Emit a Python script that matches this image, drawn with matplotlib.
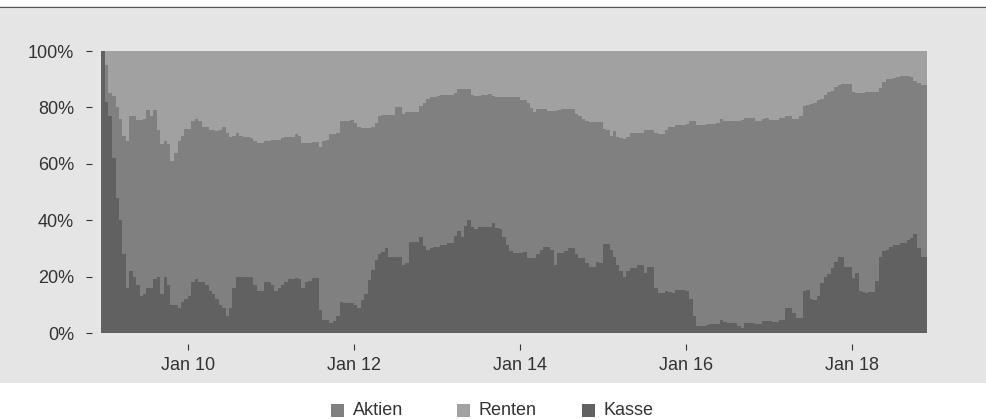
import numpy as np
import pandas as pd
import matplotlib
matplotlib.use("Agg")
import matplotlib.pyplot as plt
import matplotlib.dates as mdates
from matplotlib.patches import Rectangle
from matplotlib.lines import Line2D
from matplotlib.ticker import FuncFormatter

# ---------------- data (semi-monthly, percent) ----------------
dates = pd.date_range("2008-12-01", periods=240, freq="SMS")

kasse = [
    100, 100, 82, 77, 62, 48, 40, 28, 16, 22, 20, 17,
    13, 14, 16, 16, 19, 20, 14, 20, 17, 10, 10, 9,
    11, 12, 13, 18, 19, 18, 18, 17, 15, 14, 12, 10,
    9, 6, 9, 16, 20, 20, 20, 20, 20, 17, 15, 15,
    18, 18, 17, 15, 16, 17, 18, 19, 19, 19.5, 19, 15.8,
    18, 18.5, 19.5, 19.5, 8, 4.6, 4.5, 3.5, 4.3, 6, 11, 10.5,
    10.5, 10.5, 10, 9, 11.7, 14, 18.8, 22.3, 25.8, 28, 28.8, 30,
    27, 27, 26.8, 26.8, 24, 25, 32.4, 32.4, 32.4, 34, 31, 29.4,
    30, 30.5, 30.5, 31.2, 31.2, 31.8, 32, 34.5, 36, 34, 38, 40,
    37.5, 37, 37.5, 37.7, 37.7, 37.7, 38.9, 37.1, 37, 34.2, 31.2, 29,
    28.5, 28.3, 28.3, 28.8, 26.5, 26.5, 26.5, 28, 29.4, 30.6, 30.6, 29.4,
    24.1, 28.3, 28.3, 29, 30, 30, 28, 26.5, 26.5, 24.7, 23.5, 23.5,
    25.3, 24.7, 31.6, 31.6, 29.4, 27, 24.1, 22, 20, 22, 23.2, 23.2,
    24.1, 24.1, 21.2, 23.5, 23.5, 16, 14.1, 14.1, 15, 14.5, 14.1, 15.2,
    15.2, 15.2, 14.9, 12, 6, 2.5, 2.5, 2.5, 2.8, 3.1, 3.1, 3.3,
    4.6, 4, 3.4, 3.4, 3.4, 2.5, 1.9, 3.5, 3.7, 3.7, 3.1, 3.1,
    4.3, 4.3, 4.3, 3.8, 3.8, 4.6, 4.6, 9, 9, 7, 5.2, 5.2,
    15, 15.2, 12, 11.7, 13, 17.6, 19.7, 21, 22.9, 25.3, 27, 27,
    23.5, 23.5, 19.4, 21.2, 15, 14.7, 14.1, 14.7, 14.7, 18.4, 27, 29,
    29.4, 30.6, 31.2, 31.2, 31.8, 31.8, 33, 33.6, 35, 30, 27, 27,
]

aktien = [
    0, 0, 13, 8, 22, 32, 36, 42, 52, 55, 57, 58.5,
    62.5, 62, 63, 61, 60, 52, 53, 48, 50, 51, 54, 59,
    59, 60.5, 59.5, 57, 57, 57, 55, 56, 57, 58, 59.5, 62,
    64, 65, 60.5, 54, 51, 50, 49.5, 49.5, 49, 51, 52.5, 52.5,
    50, 50, 51.5, 53.5, 52.5, 52, 51.5, 50.5, 50.5, 50.9, 51, 51.5,
    49.3, 48.8, 48.1, 48.1, 58, 63.4, 64, 66.9, 66.1, 65, 64, 64.5,
    64.5, 65, 64.5, 64, 60.9, 58.6, 53.8, 50.7, 48.5, 49, 48.5, 47.3,
    50.3, 50.3, 53.2, 53.5, 53.5, 53.5, 46.1, 46.1, 46.1, 46.5, 50.4, 53.6,
    53.8, 53.3, 53.5, 53.2, 53.2, 52.6, 52.4, 50.5, 50.4, 52.4, 48.4, 46.5,
    47, 47, 46.7, 46.7, 46.7, 46.9, 45.1, 46.7, 46.8, 49.6, 52.4, 54.6,
    55.1, 55.3, 54.3, 53.8, 54.9, 53.2, 52, 51.3, 49.9, 48.7, 48.2, 49.4,
    54.7, 50.9, 51.1, 50.4, 49.4, 49.4, 49.5, 50.5, 49.5, 50.3, 51.4, 51.4,
    49.4, 50, 40.9, 40.4, 40.6, 44.6, 45.5, 47, 48.8, 47.5, 47.6, 47.6,
    46.7, 46.9, 50.8, 48.5, 48.5, 55, 56.3, 56.3, 57, 58.7, 59.1, 58.6,
    58.6, 58.6, 59.1, 63.2, 69.2, 71.3, 71.3, 71.3, 71.2, 71, 71, 71.2,
    71.3, 71.2, 71.8, 71.8, 71.8, 72.7, 73.6, 72.9, 72.7, 72.7, 72.1, 72.1,
    71.7, 71.8, 71.1, 71.6, 71.6, 71.5, 71.5, 68.1, 68.1, 68.9, 70.7, 71.8,
    65.5, 65.7, 69.2, 69.7, 69.5, 65.4, 64.7, 64.5, 62.9, 62.1, 61, 61.2,
    64.7, 64.7, 66.1, 63.8, 70, 70.3, 71.2, 70.6, 70.6, 66.9, 60, 60,
    60.6, 59.4, 59.3, 59.5, 59.2, 59.3, 58.1, 57.3, 54.5, 58.5, 60.9, 60.9,
]

renten = [
    0, 0, 5, 15, 16, 20, 24, 30, 32, 23, 23, 24.5,
    24.5, 24, 21, 23, 21, 28, 33, 32, 33, 39, 36, 32,
    30, 27.5, 27.5, 25, 24, 25, 27, 27, 28, 28, 28.5, 28,
    27, 29, 30.5, 30, 29, 30, 30.5, 30.5, 31, 32, 32.5, 32.5,
    32, 32, 31.5, 31.5, 31.5, 31, 30.5, 30.5, 30.5, 29.6, 30, 32.7,
    32.7, 32.7, 32.4, 32.4, 34, 32, 31.5, 29.6, 29.6, 29, 25, 25,
    25, 24.5, 25.5, 27, 27.4, 27.4, 27.4, 27, 25.7, 23, 22.7, 22.7,
    22.7, 22.7, 20, 19.7, 22.5, 21.5, 21.5, 21.5, 21.5, 19.5, 18.6, 17,
    16.2, 16.2, 16, 15.6, 15.6, 15.6, 15.6, 15, 13.6, 13.6, 13.6, 13.5,
    15.5, 16, 15.8, 15.6, 15.6, 15.4, 16, 16.2, 16.2, 16.2, 16.4, 16.4,
    16.4, 16.4, 17.4, 17.4, 18.6, 20.3, 21.5, 20.7, 20.7, 20.7, 21.2, 21.2,
    21.2, 20.8, 20.6, 20.6, 20.6, 20.6, 22.5, 23, 24, 25, 25.1, 25.1,
    25.3, 25.3, 27.5, 28, 30, 28.4, 30.4, 31, 31.2, 30.5, 29.2, 29.2,
    29.2, 29, 28, 28, 28, 29, 29.6, 29.6, 28, 26.8, 26.8, 26.2,
    26.2, 26.2, 26, 24.8, 24.8, 26.2, 26.2, 26.2, 26, 25.9, 25.9, 25.5,
    24.1, 24.8, 24.8, 24.8, 24.8, 24.8, 24.5, 23.6, 23.6, 23.6, 24.8, 24.8,
    24, 23.9, 24.6, 24.6, 24.6, 23.9, 23.9, 22.9, 22.9, 24.1, 24.1, 23,
    19.5, 19.1, 18.8, 18.6, 17.5, 17, 15.6, 14.5, 14.2, 12.6, 12, 11.8,
    11.8, 11.8, 14.5, 15, 15, 15, 14.7, 14.7, 14.7, 14.7, 13, 11,
    10, 10, 9.5, 9.3, 9, 8.9, 8.9, 9.1, 10.5, 11.5, 12.1, 12.1,
]

series_names = ["Aktien", "Renten", "Kasse"]
series_colors = {"Aktien": "#808080", "Renten": "#a1a1a1", "Kasse": "#616161"}
tick_years = [2010, 2012, 2014, 2016, 2018]
y_ticks = [0, 0.2, 0.4, 0.6, 0.8, 1.0]

# ---------------- figure ----------------
plt.rcParams["font.family"] = ["Liberation Sans", "DejaVu Sans"]
W, H = 987, 419
fig = plt.figure(figsize=(W / 100, H / 100), dpi=100)
fig.patch.set_facecolor("white")

# grey panel and top rule (behind the axes)
fig.patches.append(Rectangle((0, (H - 383) / H), 1, (383 - 9.5) / H,
                             transform=fig.transFigure, facecolor="#e5e5e5",
                             edgecolor="none", zorder=-10))
fig.add_artist(Line2D([0, 1], [(H - 7.3) / H] * 2, transform=fig.transFigure,
                      color="#555555", lw=1.0, zorder=-5))

ax = fig.add_axes([101 / W, (H - 333) / H, (928.7 - 101) / W, 282 / H])
ax.set_zorder(5)
ax.patch.set_visible(False)

k = np.array(kasse, dtype=float) / 100
a = np.array(aktien, dtype=float) / 100
r = np.array(renten, dtype=float) / 100
edges = list(dates) + [dates[-1] + pd.offsets.SemiMonthBegin()]
x = mdates.date2num(pd.DatetimeIndex(edges).to_pydatetime())


def ext(v):
    return np.append(v, v[-1])


ax.fill_between(x, 0, ext(k), step="post", color=series_colors["Kasse"], lw=0)
ax.fill_between(x, ext(k), ext(k + a), step="post", color=series_colors["Aktien"], lw=0)
ax.fill_between(x, ext(k + a), ext(k + a + r), step="post", color=series_colors["Renten"], lw=0)

ax.set_xlim(mdates.date2num(pd.Timestamp("2008-12-13")),
            mdates.date2num(pd.Timestamp("2018-12-07")))
ax.set_ylim(0, 1)

for s in ax.spines.values():
    s.set_visible(False)
ax.spines["left"].set_position(("outward", 9.3 * 0.72))
ax.spines["bottom"].set_position(("outward", 11 * 0.72))

ax.set_xticks([mdates.date2num(pd.Timestamp(f"{y}-01-01")) for y in tick_years])
ax.xaxis.set_major_formatter(mdates.DateFormatter("%b %y"))
ax.set_yticks(y_ticks)
ax.yaxis.set_major_formatter(FuncFormatter(lambda v, p: f"{v * 100:.0f}%"))

txt = "#333333"
ax.tick_params(axis="y", length=6.5 * 0.72, width=0.8, color=txt,
               pad=8, labelsize=13, labelcolor=txt)
ax.tick_params(axis="x", length=6 * 0.72, width=0.8, color=txt,
               pad=5, labelsize=13, labelcolor=txt)

# legend (manual, near the bottom edge as in the reference)
leg_x = [331, 456.7, 581.7]
for name, lx in zip(series_names, leg_x):
    fig.patches.append(Rectangle((lx / W, (H - 417) / H), 13 / W, 13 / H,
                                 transform=fig.transFigure,
                                 facecolor=series_colors[name], edgecolor="none"))
    fig.text((lx + 22) / W, (H - 414.5) / H, name, fontsize=13, color=txt,
             ha="left", va="baseline")

fig.savefig("out.png", dpi=100)
